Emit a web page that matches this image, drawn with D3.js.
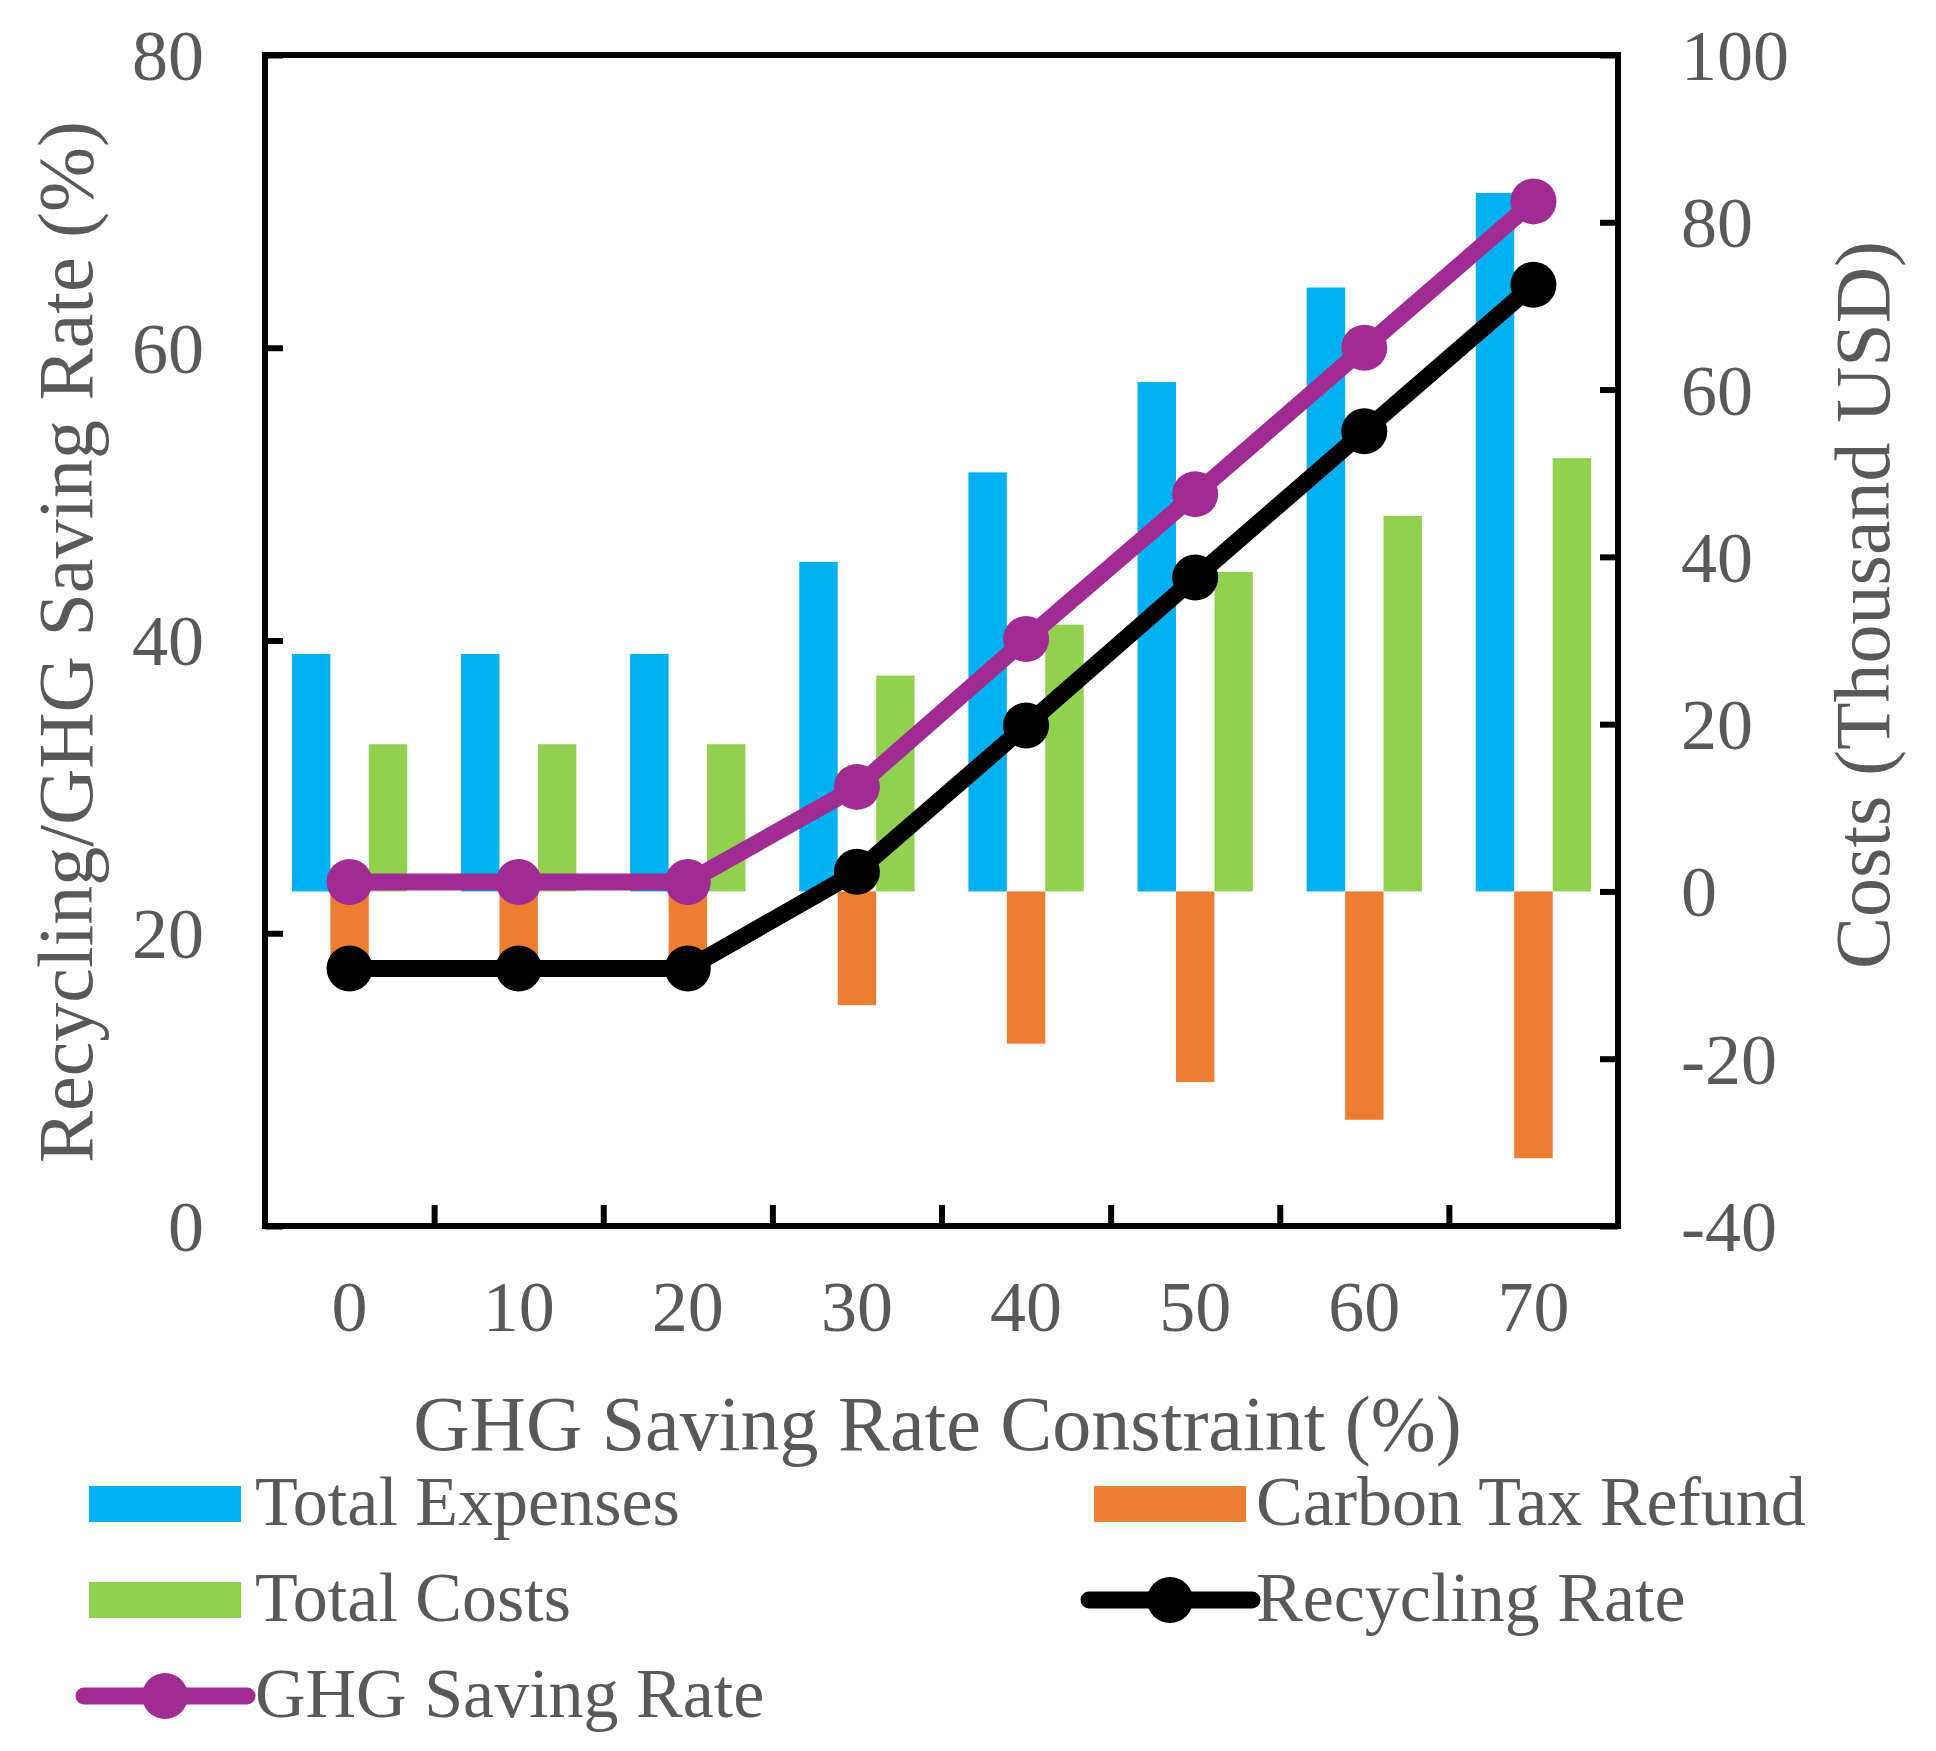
<!DOCTYPE html>
<html>
<head>
<meta charset="utf-8">
<script src="https://cdn.jsdelivr.net/npm/d3@7"></script>
<style>
  body { margin: 0; background: #fff; }
  svg text { font-family: "Liberation Serif", "Times New Roman", serif; fill: #595959; }
</style>
</head>
<body>
<div id="chart"></div>
<script>
// dati
const categories = ["0", "10", "20", "30", "40", "50", "60", "70"];
const totalExpenses = [28.4, 28.4, 28.4, 39.4, 50.1, 60.9, 72.2, 83.5];
const carbonTaxRefund = [-10.8, -10.8, -10.8, -13.6, -18.2, -22.8, -27.3, -31.9];
const totalCosts = [17.6, 17.6, 17.6, 25.8, 31.9, 38.2, 44.9, 51.8];
const recyclingRate = [17.6, 17.6, 17.6, 24.2, 34.2, 44.3, 54.3, 64.3];
const ghgSavingRate = [23.5, 23.5, 23.5, 30.0, 40.1, 50.0, 60.0, 70.0];
const leftTicks = [0, 20, 40, 60, 80];
const rightTicks = [-40, -20, 0, 20, 40, 60, 80, 100];

const W = 1936, H = 1751;
const plot = { left: 265, right: 1618, top: 55, bottom: 1226 };

const svg = d3.select("#chart").append("svg")
    .attr("width", W)
    .attr("height", H);

// scale
const x = d3.scaleBand()
    .domain(categories)
    .range([plot.left, plot.right])
    .padding(0);

const barSeries = ["Total Expenses", "Carbon Tax Refund", "Total Costs"];
const barValues = [totalExpenses, carbonTaxRefund, totalCosts];
const barColors = ["#00B0F0", "#ED7D31", "#92D050"];

const x1 = d3.scaleBand()
    .domain(barSeries)
    .range([0, x.bandwidth()])
    .paddingInner(0)
    .paddingOuter(0.7);

const yL = d3.scaleLinear().domain([0, 80]).range([plot.bottom, plot.top]);
const yR = d3.scaleLinear().domain([-40, 100]).range([plot.bottom, plot.top]);

// barre
barSeries.forEach((s, k) => {
    svg.append("g").selectAll("rect")
        .data(barValues[k])
        .join("rect")
        .attr("x", (d, i) => x(categories[i]) + x1(s))
        .attr("width", x1.bandwidth())
        .attr("y", d => Math.min(yR(d), yR(0)))
        .attr("height", d => Math.abs(yR(d) - yR(0)))
        .attr("fill", barColors[k]);
});

// linee
const lineSeries = [
    { name: "Recycling Rate", values: recyclingRate, color: "#000000" },
    { name: "GHG Saving Rate", values: ghgSavingRate, color: "#A02B93" }
];

const line = d3.line()
    .x((d, i) => x(categories[i]) + x.bandwidth() / 2)
    .y(d => yL(d));

lineSeries.forEach(s => {
    svg.append("path")
        .datum(s.values)
        .attr("d", line)
        .attr("fill", "none")
        .attr("stroke", s.color)
        .attr("stroke-width", 17)
        .attr("stroke-linejoin", "round");
    svg.append("g").selectAll("circle")
        .data(s.values)
        .join("circle")
        .attr("cx", (d, i) => x(categories[i]) + x.bandwidth() / 2)
        .attr("cy", d => yL(d))
        .attr("r", 23)
        .attr("fill", s.color);
});

// assi (trattino normale per i negativi)
const fmt = d => String(d);

const axL = svg.append("g")
    .attr("transform", `translate(${plot.left},0)`)
    .call(d3.axisLeft(yL).tickValues(leftTicks).tickFormat(fmt).tickSizeInner(-18).tickSizeOuter(0).tickPadding(61));

const axR = svg.append("g")
    .attr("transform", `translate(${plot.right},0)`)
    .call(d3.axisRight(yR).tickValues(rightTicks).tickFormat(fmt).tickSizeInner(-18).tickSizeOuter(0).tickPadding(63));

const axB = svg.append("g")
    .attr("transform", `translate(0,${plot.bottom})`)
    .call(d3.axisBottom(x).tickSize(0).tickPadding(105));

const xSep = d3.scaleLinear().domain([0, categories.length]).range([plot.left, plot.right]);
const axSep = svg.append("g")
    .attr("transform", `translate(0,${plot.bottom})`)
    .call(d3.axisBottom(xSep).tickValues(d3.range(1, categories.length)).tickSizeInner(-21).tickSizeOuter(0).tickFormat(""));

[axL, axR, axB, axSep].forEach(a => {
    a.select(".domain").remove();
    a.selectAll("line").attr("stroke", "#000").attr("stroke-width", 6);
    a.selectAll("text").style("font-size", "72px").attr("fill", "#595959");
});
axL.selectAll("text").attr("dy", "0.34em");
axR.selectAll("text").attr("dy", "0.34em");
axB.selectAll("text").attr("dy", "0");

// cornice
svg.append("rect")
    .attr("x", plot.left)
    .attr("y", plot.top)
    .attr("width", plot.right - plot.left)
    .attr("height", plot.bottom - plot.top)
    .attr("fill", "none")
    .attr("stroke", "#000")
    .attr("stroke-width", 6);

// titoli assi
svg.append("text")
    .attr("x", (plot.left + plot.right) / 2 - 4)
    .attr("y", 1450)
    .attr("text-anchor", "middle")
    .style("font-size", "78px")
    .text("GHG Saving Rate Constraint (%)");

svg.append("text")
    .attr("transform", "translate(92,642) rotate(-90)")
    .attr("text-anchor", "middle")
    .style("font-size", "78px")
    .text("Recycling/GHG Saving Rate (%)");

svg.append("text")
    .attr("transform", "translate(1889,605) rotate(-90)")
    .attr("text-anchor", "middle")
    .style("font-size", "78px")
    .text("Costs (Thousand USD)");

// legenda
const legendItems = [
    { name: "Total Expenses", type: "bar", color: barColors[0], col: 0, row: 0 },
    { name: "Carbon Tax Refund", type: "bar", color: barColors[1], col: 1, row: 0 },
    { name: "Total Costs", type: "bar", color: barColors[2], col: 0, row: 1 },
    { name: "Recycling Rate", type: "line", color: lineSeries[0].color, col: 1, row: 1 },
    { name: "GHG Saving Rate", type: "line", color: lineSeries[1].color, col: 0, row: 2 }
];
const colX = [89, 1094];
const rowY = [1504, 1600, 1696];

const leg = svg.append("g").selectAll("g")
    .data(legendItems)
    .join("g")
    .attr("transform", d => `translate(${colX[d.col]},${rowY[d.row]})`);

leg.filter(d => d.type === "bar").append("rect")
    .attr("x", 0).attr("y", -18)
    .attr("width", 152).attr("height", 36)
    .attr("fill", d => d.color);

leg.filter(d => d.type === "line").append("line")
    .attr("x1", -5).attr("x2", 158)
    .attr("stroke", d => d.color)
    .attr("stroke-width", 17)
    .attr("stroke-linecap", "round");

leg.filter(d => d.type === "line").append("circle")
    .attr("cx", 76).attr("r", 23)
    .attr("fill", d => d.color);

leg.append("text")
    .attr("x", d => d.col === 1 ? 162 : 166)
    .attr("y", 21)
    .style("font-size", "70px")
    .text(d => d.name);
</script>
</body>
</html>
